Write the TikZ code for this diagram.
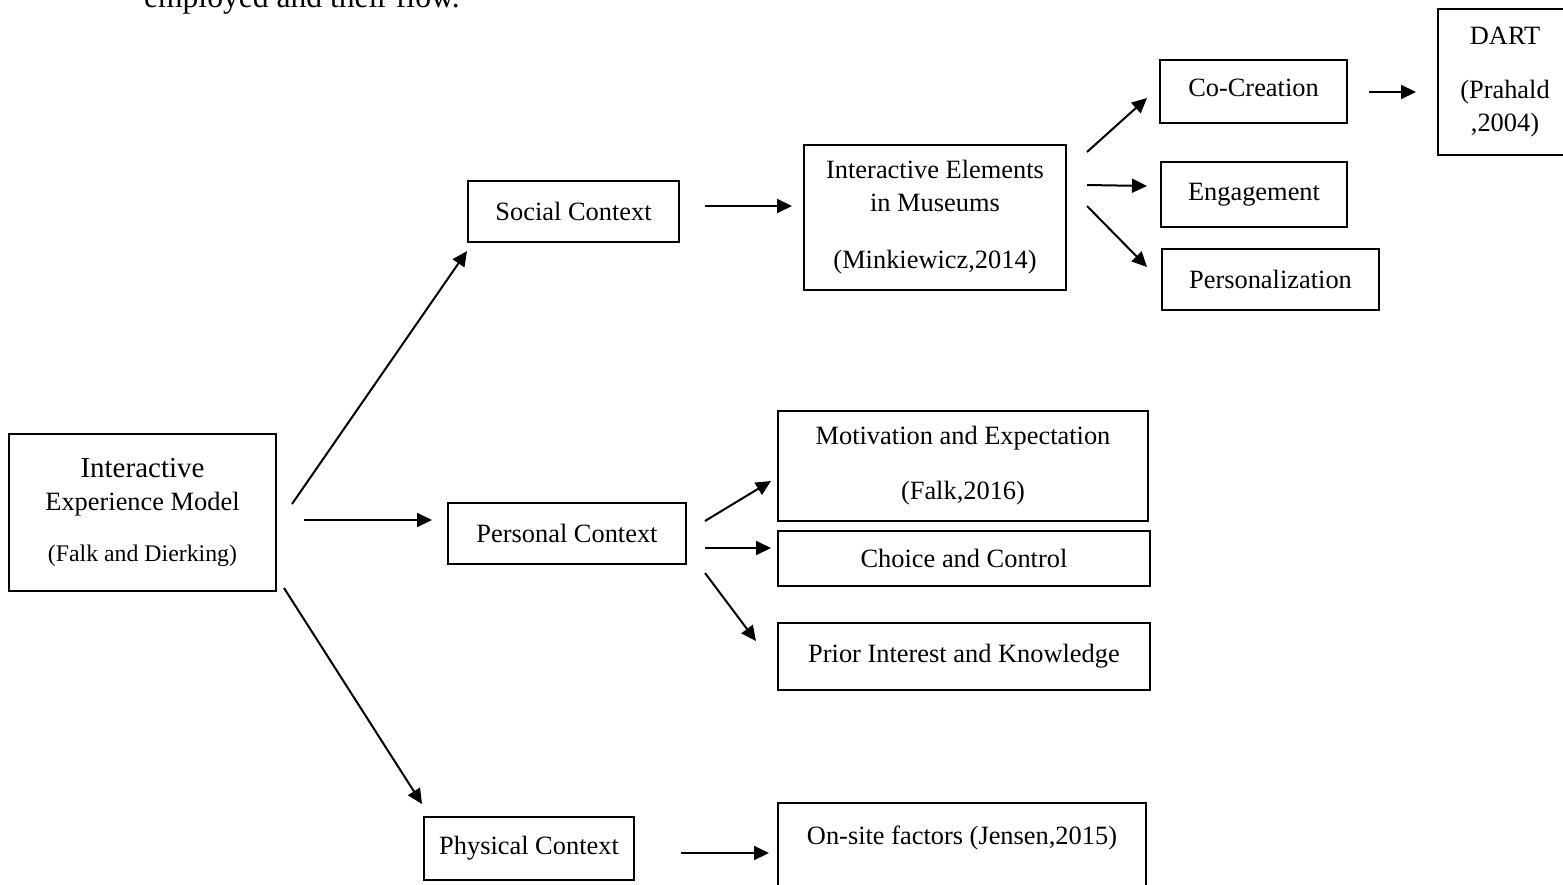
\documentclass[tikz,border=0pt]{standalone}
\usepackage{fontspec}
\setmainfont{Liberation Serif}
\usepackage{tikz}
\usetikzlibrary{arrows.meta}

\begin{document}
\begin{tikzpicture}[
    x=0.5pt, y=-0.5pt,
    every node/.style={font=\fontsize{13.2}{16.5}\selectfont, align=center},
    box/.style={draw, line width=1pt, inner sep=0pt},
    arrow/.style={-{Triangle[length=7.5pt,width=7pt]}, line width=1pt}
]
\useasboundingbox (0,0) rectangle (1563,884);
\node[anchor=base west, font=\fontsize{15.8}{19}\selectfont] (cap) at (137,7) {employed and their flow.};
\node[box, minimum width=133.5pt, minimum height=78.5pt] (IEM) at (142.5,512.5) {\fontsize{14.5}{19}\selectfont Interactive\\Experience Model\\[9pt]\fontsize{11.9}{14}\selectfont (Falk and Dierking)};
\node[box, minimum width=105.5pt, minimum height=30.5pt] (S1) at (573.5,211.5) {Social Context};
\node[box, minimum width=119pt, minimum height=30.5pt] (P1) at (567,533.5) {Personal Context};
\node[box, minimum width=105pt, minimum height=31.5pt] (F1) at (529,848.5) {Physical Context};
\node[box, minimum width=131pt, minimum height=72.5pt] (S2) at (935,217.5) {Interactive Elements\\in Museums\\[12pt](Minkiewicz,2014)};
\node[box, minimum width=93.5pt, minimum height=31.5pt] (S3a) at (1253.5,91.5) {Co-Creation\\[-13pt]~};
\node[box, minimum width=93pt, minimum height=32.5pt] (S3b) at (1254,194.5) {Engagement};
\node[box, minimum width=108.5pt, minimum height=30.5pt] (S3c) at (1270.5,279.5) {Personalization};
\node[box, minimum width=67pt, minimum height=73pt] (S4) at (1505,82) {DART\\[10.5pt](Prahald\\,2004)};
\node[box, minimum width=185pt, minimum height=55pt] (P2a) at (963,466) {Motivation and Expectation\\[11pt](Falk,2016)};
\node[box, minimum width=186pt, minimum height=27.5pt] (P2b) at (964,558.5) {Choice and Control};
\node[box, minimum width=186pt, minimum height=33.5pt] (P2c) at (964,656.5) {Prior Interest and Knowledge};
\node[box, minimum width=184pt, minimum height=48.5pt] (F2) at (962,851.5) {On-site factors (Jensen,2015)\\~};
% model to the three contexts
\draw[arrow] ([shift={(15,71)}]IEM.north east) -- ([shift={(0,8)}]S1.south west);
\draw[arrow] ([shift={(27,7.5)}]IEM.east) -- ([shift={(-15,-13.5)}]P1.west);
\draw[arrow] ([shift={(7,-4)}]IEM.south east) -- ([shift={(-1,-12)}]F1.north west);
% social branch
\draw[arrow] ([shift={(25,-5.5)}]S1.east) -- ([shift={(-11,-11.5)}]S2.west);
\draw[arrow] ([shift={(20,8)}]S2.north east) -- ([shift={(-12,6.5)}]S3a.west);
\draw[arrow] ([shift={(20,-32.5)}]S2.east) -- ([shift={(-13,-8.5)}]S3b.west);
\draw[arrow] ([shift={(20,-11.5)}]S2.east) -- ([shift={(-14,-12.5)}]S3c.west);
\draw[arrow] ([shift={(21,0.5)}]S3a.east) -- ([shift={(-21,10)}]S4.west);
% personal branch
\draw[arrow] ([shift={(18,-12.5)}]P1.east) -- ([shift={(-6,15)}]P2a.west);
\draw[arrow] ([shift={(18,14.5)}]P1.east) -- ([shift={(-6,-10.5)}]P2b.west);
\draw[arrow] ([shift={(18,8)}]P1.south east) -- ([shift={(-21,-15.5)}]P2c.west);
% physical branch
\draw[arrow] ([shift={(46,4.5)}]F1.east) -- ([shift={(-8,1.5)}]F2.west);
\end{tikzpicture}
\end{document}
